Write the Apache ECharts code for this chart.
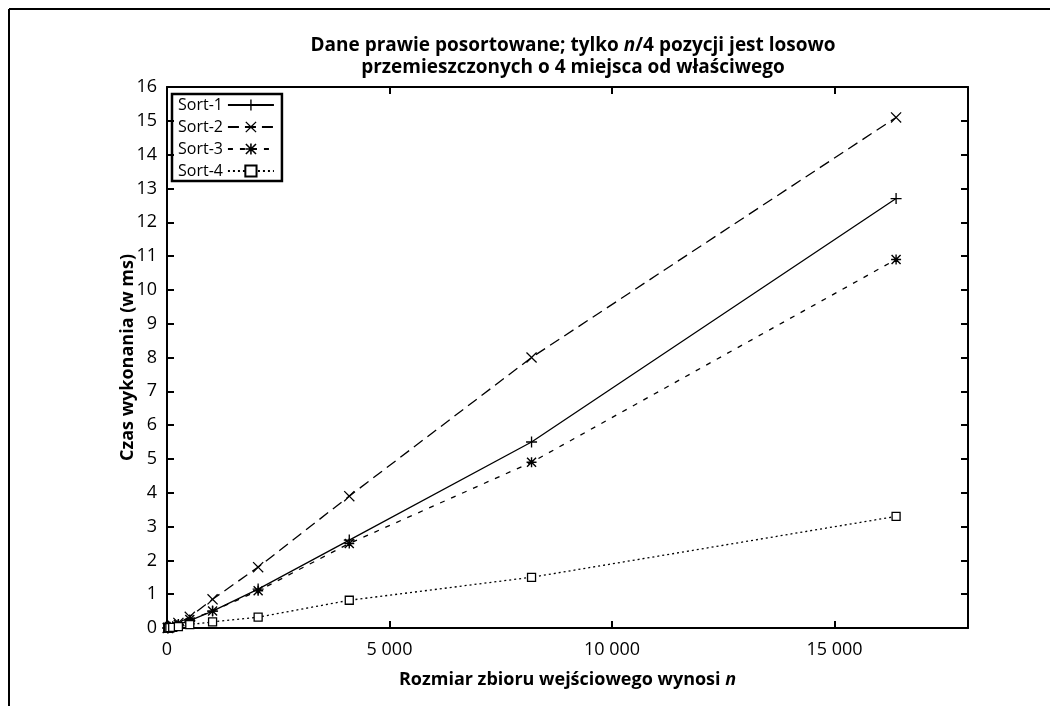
<!DOCTYPE html>
<html>
<head>
<meta charset="utf-8">
<script src="https://cdn.jsdelivr.net/npm/echarts@6/dist/echarts.min.js"></script>
<style>
  html, body { margin: 0; padding: 0; background: #fff; }
  #main { width: 1059px; height: 706px; }
</style>
</head>
<body>
<div id="main"></div>
<script>
const sizes = [16, 32, 64, 128, 256, 512, 1024, 2048, 4096, 8192, 16384]
const sort1 = [0.0, 0.01, 0.02, 0.04, 0.1, 0.22, 0.5, 1.15, 2.6, 5.5, 12.7]
const sort2 = [0.0, 0.01, 0.03, 0.07, 0.15, 0.33, 0.85, 1.8, 3.9, 8.0, 15.1]
const sort3 = [0.0, 0.01, 0.02, 0.04, 0.1, 0.25, 0.5, 1.1, 2.5, 4.9, 10.9]
const sort4 = [0.0, 0.0, 0.01, 0.02, 0.04, 0.1, 0.18, 0.32, 0.82, 1.5, 3.3]
const seriesNames = ['Sort-1', 'Sort-2', 'Sort-3', 'Sort-4']

const font = 'Open Sans'
const pair = arr => sizes.map((s, i) => [s, arr[i]])

// marker shapes
const plusPath = 'path://M4.4,0 H5.6 V4.4 H10 V5.6 H5.6 V10 H4.4 V5.6 H0 V4.4 H4.4 Z'
const crossPath = 'path://M0.8,0 L5,4.2 L9.2,0 L10,0.8 L5.8,5 L10,9.2 L9.2,10 L5,5.8 L0.8,10 L0,9.2 L4.2,5 L0,0.8 Z'
const starPath = 'path://M4.3,0 H5.7 V4.3 H10 V5.7 H5.7 V10 H4.3 V5.7 H0 V4.3 H4.3 Z M1,0 L5,4 L9,0 L10,1 L6,5 L10,9 L9,10 L5,6 L1,10 L0,9 L4,5 L0,1 Z'

const axisCommon = {
  axisLine: { onZero: false, lineStyle: { color: '#000', width: 2 } },
  axisTick: { inside: true, length: 7, lineStyle: { color: '#000', width: 2 } },
  splitLine: { show: false }
}

let option = {
  backgroundColor: '#fff',
  animation: false,
  title: {
    text: 'Dane prawie posortowane; tylko {i|n}/4 pozycji jest losowo\nprzemieszczonych o 4 miejsca od właściwego',
    left: 568,
    top: 30,
    textAlign: 'center',
    textStyle: {
      fontFamily: font,
      fontWeight: 'bold',
      fontSize: 19,
      lineHeight: 22,
      color: '#000',
      rich: {
        i: { fontFamily: font, fontWeight: 'bold', fontStyle: 'italic', fontSize: 19, color: '#000' }
      }
    }
  },
  legend: {
    data: seriesNames,
    orient: 'vertical',
    left: 172,
    top: 94,
    align: 'right',
    itemWidth: 46,
    itemHeight: 14,
    itemGap: 6,
    padding: [3, 7, 2, 6],
    borderColor: '#000',
    borderWidth: 2.5,
    textStyle: { fontFamily: font, fontSize: 16, color: '#000' }
  },
  grid: { left: 167, right: 91, top: 87, bottom: 78 },
  xAxis: [
    Object.assign({
      type: 'value',
      min: 0,
      max: 18000,
      interval: 5000,
      name: 'Rozmiar zbioru wejściowego wynosi {i|n}',
      nameLocation: 'middle',
      nameGap: 43,
      nameTextStyle: {
        fontFamily: font, fontWeight: 'bold', fontSize: 18, color: '#000',
        rich: { i: { fontFamily: font, fontWeight: 'bold', fontStyle: 'italic', fontSize: 18, color: '#000' } }
      },
      axisLabel: {
        fontFamily: font, fontSize: 18, color: '#000', margin: 13,
        showMaxLabel: false,
        formatter: v => v >= 1000 ? String(v).replace(/(\d)(?=(\d{3})+$)/g, '$1 ') : String(v)
      }
    }, axisCommon),
    Object.assign({
      type: 'value',
      position: 'top',
      min: 0,
      max: 18000,
      interval: 5000,
      axisLabel: { show: false }
    }, axisCommon)
  ],
  yAxis: [
    Object.assign({
      type: 'value',
      min: 0,
      max: 16,
      interval: 1,
      name: 'Czas wykonania (w ms)',
      nameLocation: 'middle',
      nameMoveOverlap: false,
      nameGap: 30,
      nameTextStyle: { fontFamily: font, fontWeight: 'bold', fontSize: 18, color: '#000' },
      axisLabel: { fontFamily: font, fontSize: 18, color: '#000', margin: 10 }
    }, axisCommon),
    Object.assign({
      type: 'value',
      position: 'right',
      min: 0,
      max: 16,
      interval: 1,
      axisLabel: { show: false }
    }, axisCommon)
  ],
  series: [
    {
      name: 'Sort-1', type: 'line', data: pair(sort1),
      symbol: plusPath, symbolSize: 11,
      itemStyle: { color: '#000' },
      lineStyle: { color: '#000', width: 1.3, type: 'solid' }
    },
    {
      name: 'Sort-2', type: 'line', data: pair(sort2),
      symbol: crossPath, symbolSize: 11,
      itemStyle: { color: '#000' },
      lineStyle: { color: '#000', width: 1.3, type: [11, 6] }
    },
    {
      name: 'Sort-3', type: 'line', data: pair(sort3),
      symbol: starPath, symbolSize: 10,
      itemStyle: { color: '#000' },
      lineStyle: { color: '#000', width: 1.3, type: [5, 7] }
    },
    {
      name: 'Sort-4', type: 'line', data: pair(sort4),
      symbol: 'rect', symbolSize: 8,
      itemStyle: { color: '#fff', borderColor: '#000', borderWidth: 1.3 },
      lineStyle: { color: '#000', width: 1.3, type: [2, 3] }
    }
  ],
  graphic: [
    { type: 'line', shape: { x1: 9, y1: 9, x2: 1050, y2: 9 }, style: { stroke: '#000', lineWidth: 2 } },
    { type: 'line', shape: { x1: 9, y1: 9, x2: 9, y2: 706 }, style: { stroke: '#000', lineWidth: 2 } }
  ]
}

let myChart = echarts.init(document.getElementById('main'))
myChart.setOption(option)
</script>
</body>
</html>
